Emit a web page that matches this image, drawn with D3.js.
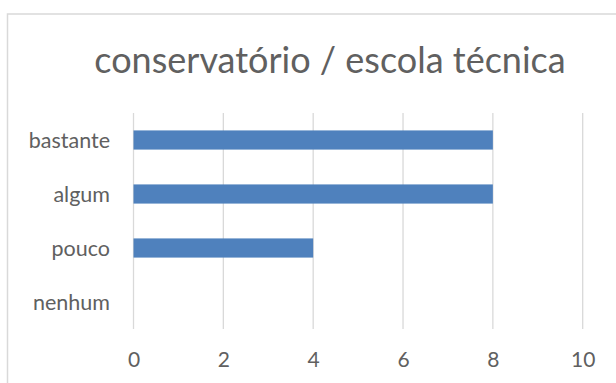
<!DOCTYPE html>
<html>
<head>
<meta charset="utf-8">
<script src="https://cdn.jsdelivr.net/npm/d3@7"></script>
<style>
  html, body { margin: 0; padding: 0; background: #fff; }
  svg { display: block; }
  text { font-family: Lato, "Open Sans", sans-serif; font-weight: 400; fill: #606060; }
</style>
</head>
<body>
<svg id="chart" width="616" height="383"></svg>
<script>
// Responses for "conservatório / escola técnica"
const title = "conservatório / escola técnica";
const categories = ["bastante", "algum", "pouco", "nenhum"];
const values = [8, 8, 4, 0];
const xTicks = [0, 2, 4, 6, 8, 10];

const svg = d3.select("#chart");

// chart frame (extends past the right/bottom of the view)
svg.append("rect")
  .attr("x", 7.5).attr("y", 14)
  .attr("width", 660).attr("height", 400)
  .attr("fill", "#fff")
  .attr("stroke", "#d9d9d9")
  .attr("stroke-width", 1.5);

const plot = { left: 133.5, right: 582.7, top: 113, bottom: 329 };

const x = d3.scaleLinear().domain([0, 10]).range([plot.left, plot.right]);
const y = d3.scaleBand().domain(categories)
  .range([plot.top, plot.bottom])
  .paddingInner(0.645).paddingOuter(0.3225);

// title
svg.append("text")
  .attr("x", 330).attr("y", 73)
  .attr("text-anchor", "middle")
  .style("font-size", "36px")
  .text(title);

// vertical gridlines
svg.append("g")
  .selectAll("line")
  .data(xTicks)
  .join("line")
  .attr("x1", d => x(d)).attr("x2", d => x(d))
  .attr("y1", plot.top).attr("y2", plot.bottom)
  .attr("stroke", "#d9d9d9")
  .attr("stroke-width", 1.3);

// bars
svg.append("g")
  .selectAll("rect")
  .data(categories.map((c, i) => ({ c, v: values[i] })))
  .join("rect")
  .attr("x", x(0))
  .attr("y", d => y(d.c))
  .attr("width", d => x(d.v) - x(0))
  .attr("height", y.bandwidth())
  .attr("fill", "#4f81bd");

// x axis labels
const xAxis = d3.axisBottom(x).tickValues(xTicks).tickSize(0).tickPadding(0);
const gx = svg.append("g")
  .attr("transform", `translate(0,${plot.bottom})`)
  .call(xAxis);
gx.select(".domain").remove();
gx.selectAll("text")
  .attr("dy", null)
  .attr("y", 38)
  .style("font-size", "21px")
  .style("font-family", "Lato, sans-serif")
  .attr("fill", "#606060");

// y axis labels
const yAxis = d3.axisLeft(y).tickSize(0).tickPadding(0);
const gy = svg.append("g")
  .attr("transform", `translate(110,0)`)
  .call(yAxis);
gy.select(".domain").remove();
gy.selectAll("text")
  .attr("dy", "0.35em")
  .style("font-size", "21.5px")
  .style("font-family", "Lato, sans-serif")
  .attr("fill", "#606060");
</script>
</body>
</html>
